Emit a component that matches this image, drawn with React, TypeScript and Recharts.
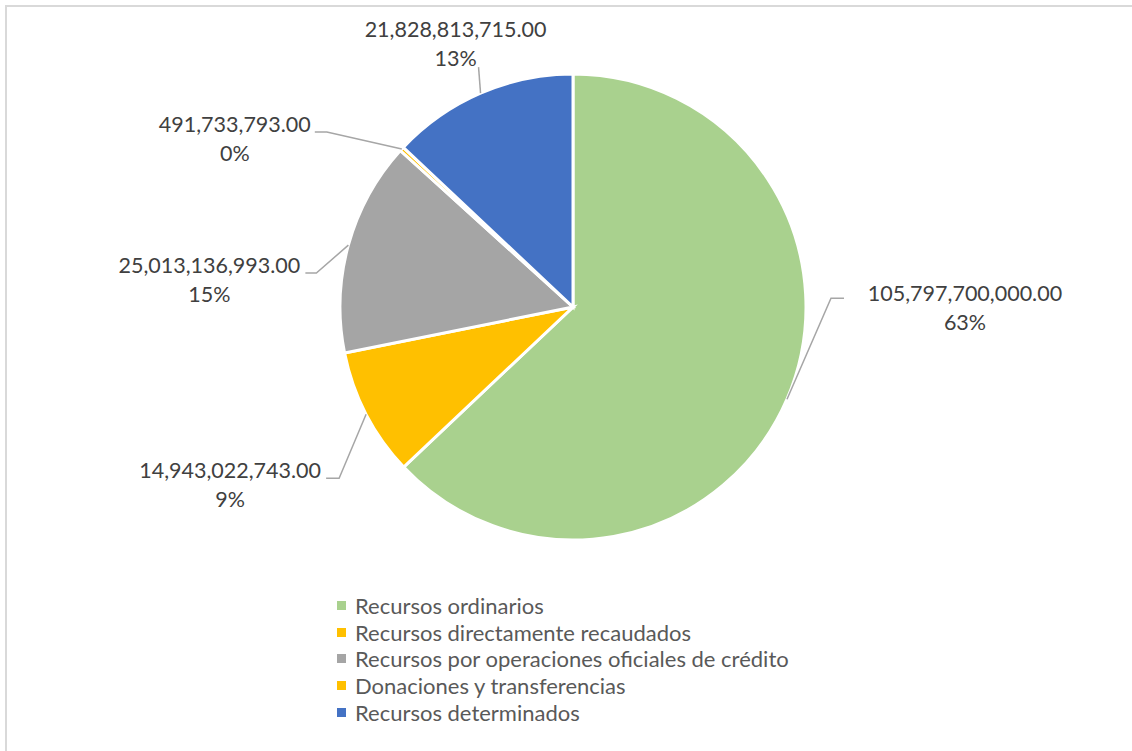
import React from "react";
import { PieChart, Pie, Cell, Legend } from "recharts";

const categories = [
  "Recursos ordinarios",
  "Recursos directamente recaudados",
  "Recursos por operaciones oficiales de crédito",
  "Donaciones y transferencias",
  "Recursos determinados",
];
const amounts = [105797700000, 14943022743, 25013136993, 491733793, 21828813715];
const sliceColors = ["#A9D18E", "#FFC000", "#A5A5A5", "#FFC000", "#4472C4"];

// label placement relative to the slice's edge point (Excel-style callouts)
const labelLayout = [
  { elbow: [44, -101], end: [57, -101], text: [178, -98] },
  { elbow: [-27, 64], end: [-40, 64], text: [-136, 64] },
  { elbow: [-32, 28], end: [-43, 28], text: [-139, 28] },
  { elbow: [-75, -17], end: [-87, -17], text: [-167, -17] },
  { elbow: [-2, -26], end: [-2, -26], text: [-25, -56] },
];

const data = categories.map((name, i) => ({ name, value: amounts[i] }));
const total = amounts.reduce((a, b) => a + b, 0);

const FONT = "Lato, 'Open Sans', sans-serif";
const RADIAN = Math.PI / 180;

function renderLabel(props: any) {
  const { cx, cy, midAngle, outerRadius, index, value } = props;
  const ex = cx + outerRadius * Math.cos(-midAngle * RADIAN);
  const ey = cy + outerRadius * Math.sin(-midAngle * RADIAN);
  const lay = labelLayout[index];
  const pct = Math.round((value / total) * 100);
  const tx = ex + lay.text[0];
  const ty = ey + lay.text[1];
  return (
    <g key={`lbl-${index}`}>
      <polyline
        points={`${ex},${ey} ${ex + lay.elbow[0]},${ey + lay.elbow[1]} ${ex + lay.end[0]},${ey + lay.end[1]}`}
        fill="none"
        stroke="#A6A6A6"
        strokeWidth={1.5}
      />
      <text x={tx} y={ty} textAnchor="middle" fontFamily={FONT} fontSize={21.5} fill="#404040">
        {value.toLocaleString("en-US", { minimumFractionDigits: 2, maximumFractionDigits: 2 })}
      </text>
      <text x={tx} y={ty + 29} textAnchor="middle" fontFamily={FONT} fontSize={21.5} fill="#404040">
        {pct}%
      </text>
    </g>
  );
}

function renderLegend() {
  return (
    <div style={{ fontFamily: FONT, fontSize: 22, color: "#595959" }}>
      {categories.map((name, i) => (
        <div key={name} style={{ display: "flex", alignItems: "center", height: 26.7 }}>
          <span
            style={{ width: 9, height: 9, background: sliceColors[i], display: "inline-block", marginRight: 9 }}
          />
          <span>{name}</span>
        </div>
      ))}
    </div>
  );
}

export default function App() {
  return (
    <div style={{ position: "absolute", left: 0, top: 0, width: 1132, height: 751, overflow: "hidden", background: "#fff" }}>
      <div style={{ position: "absolute", left: 0, top: 0 }}>
        <PieChart width={1132} height={751} margin={{ top: 0, right: 0, bottom: 0, left: 0 }}>
          <Pie
            data={data}
            dataKey="value"
            nameKey="name"
            cx={573}
            cy={307}
            outerRadius={233}
            startAngle={90}
            endAngle={-270}
            stroke="#fff"
            strokeWidth={3}
            label={renderLabel}
            labelLine={false}
            isAnimationActive={false}
          >
            {data.map((d, i) => (
              <Cell key={d.name} fill={sliceColors[i]} />
            ))}
          </Pie>
          <Legend
            content={renderLegend}
            wrapperStyle={{ position: "absolute", left: 337, top: 592, width: 540 }}
          />
        </PieChart>
      </div>
      <div
        style={{
          position: "absolute",
          left: 5,
          top: 5,
          width: 1150,
          height: 770,
          border: "2px solid #D9D9D9",
          pointerEvents: "none",
          zIndex: 2,
        }}
      />
    </div>
  );
}
